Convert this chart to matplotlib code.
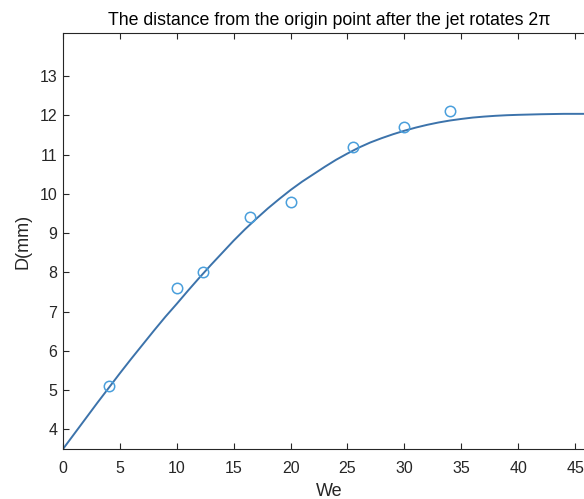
import numpy as np
import matplotlib
matplotlib.use("Agg")
import matplotlib.pyplot as plt

plt.rcParams['font.family'] = ['Liberation Sans', 'DejaVu Sans']

# measured points
we_pts = [4, 10, 12.3, 16.4, 20, 25.5, 30, 34]
d_pts = [5.1, 7.6, 8.0, 9.4, 9.8, 11.2, 11.7, 12.1]

# fitted curve
we_fit = [0, 1, 2, 3, 4, 5, 6, 7, 8, 9, 10, 11, 12, 13, 14, 15, 16, 17,
          18, 19, 20, 21, 22, 23, 24, 25, 26, 27, 28, 29, 30, 31, 32, 33,
          34, 35, 36, 37, 38, 39, 40, 42, 44, 46, 48]
d_fit = [3.5, 3.89, 4.28, 4.67, 5.05, 5.43, 5.8, 6.16, 6.52, 6.87, 7.2,
         7.54, 7.87, 8.19, 8.5, 8.81, 9.1, 9.37, 9.63, 9.87, 10.1, 10.31,
         10.5, 10.69, 10.87, 11.03, 11.18, 11.31, 11.42, 11.52, 11.61,
         11.69, 11.76, 11.82, 11.87, 11.91, 11.945, 11.97, 11.99, 12.005,
         12.015, 12.03, 12.04, 12.04, 12.04]

fig = plt.figure(figsize=(5.84, 4.99), dpi=100)
ax = fig.add_axes([63/584, 50/499, 532/584, 416/499])

ax.plot(we_fit, d_fit, color='#3c73ab', lw=1.4, zorder=2)
ax.plot(we_pts, d_pts, 'o', mfc='none', mec='#4a9fdc', ms=7.5, mew=1.1, zorder=3)

ax.set_xlim(0, 46.75)
ax.set_ylim(3.5, 14.1)
ax.set_xticks(np.arange(0, 50, 5))
ax.set_yticks(np.arange(4, 14, 1))

ax.tick_params(direction='in', length=4, width=0.8, colors='#262626',
               labelsize=11.5, top=True, right=True)
ax.tick_params(axis='x', pad=8.5)
ax.tick_params(axis='y', pad=4)
for s in ax.spines.values():
    s.set_color('#262626')
    s.set_linewidth(0.8)

ax.set_xlabel('We', fontsize=13, color='#262626', labelpad=5)
ax.set_ylabel('D(mm)', fontsize=13, color='#262626', labelpad=6)
ax.set_title('The distance from the origin point after the jet rotates 2π',
             fontsize=12.8, color='#000000', pad=6)

fig.savefig('out.png', dpi=100)
